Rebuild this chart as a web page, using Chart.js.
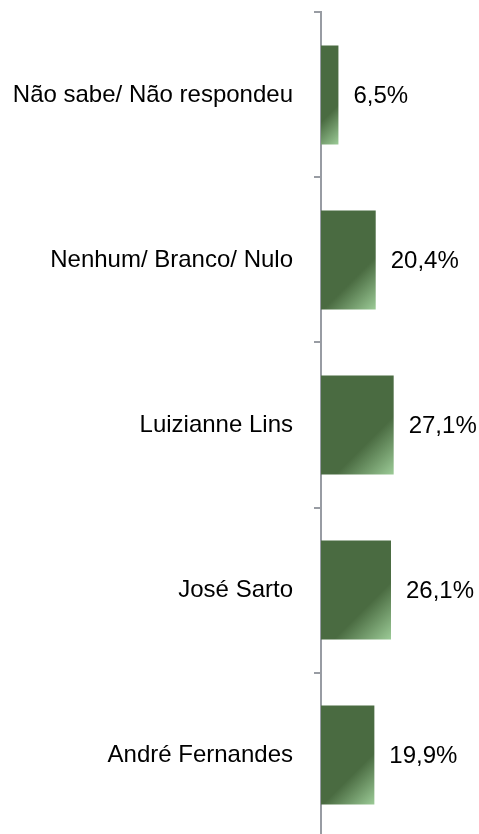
<!DOCTYPE html>
<html lang="pt">
<head>
<meta charset="UTF-8">
<title>Intenção de voto</title>
<script src="https://cdn.jsdelivr.net/npm/chart.js"></script>
<style>
  html, body { margin: 0; padding: 0; background: #fff; overflow: hidden; }
  .wrap { width: 479px; height: 834px; overflow: hidden; }
  #grafico { display: block; margin-top: -23px; }
</style>
</head>
<body>
<div class="wrap"><canvas id="grafico" width="479" height="896"></canvas></div>
<script>
// dados (de cima para baixo)
var candidatos = ['Não sabe/ Não respondeu', 'Nenhum/ Branco/ Nulo', 'Luizianne Lins', 'José Sarto', 'André Fernandes'];
var percentuais = [6.5, 20.4, 27.1, 26.1, 19.9];

var fonte = '"Liberation Sans", Arial, sans-serif';

// degradê verde a 45 graus em cada barra, clareando no canto inferior direito
function corBarra(ctx) {
  var chart = ctx.chart;
  var sx = chart.scales.x, sy = chart.scales.y;
  if (!sx || !sy || ctx.dataIndex === undefined) return '#4a6b41';
  var x0 = sx.getPixelForValue(0);
  var x1 = sx.getPixelForValue(percentuais[ctx.dataIndex]);
  var yc = sy.getPixelForValue(ctx.dataIndex);
  var h = (sy.height / candidatos.length) * 0.6;
  if (![x0, x1, yc, h].every(isFinite)) return '#4a6b41';
  var d = (x1 - x0 + h) / 2;
  var g = chart.ctx.createLinearGradient(x0, yc - h / 2, x0 + d, yc - h / 2 + d);
  g.addColorStop(0, '#4a6b41');
  g.addColorStop(0.66, '#4a6b41');
  g.addColorStop(1, '#9ccb97');
  return g;
}

// rótulos com o valor ao lado das barras
var rotulos = {
  id: 'rotulos',
  afterDatasetsDraw: function(chart) {
    var c = chart.ctx;
    var meta = chart.getDatasetMeta(0);
    c.save();
    c.font = '24px ' + fonte;
    c.fillStyle = '#000';
    c.textAlign = 'left';
    c.textBaseline = 'middle';
    meta.data.forEach(function(bar, i) {
      var txt = percentuais[i].toFixed(1).replace('.', ',') + '%';
      c.fillText(txt, bar.x + 15, bar.y + 1);
    });
    c.restore();
  }
};

new Chart(document.getElementById('grafico'), {
  type: 'bar',
  data: {
    labels: candidatos,
    datasets: [{
      data: percentuais,
      backgroundColor: corBarra,
      borderWidth: 0,
      categoryPercentage: 0.6,
      barPercentage: 1
    }]
  },
  plugins: [rotulos],
  options: {
    indexAxis: 'y',
    responsive: false,
    animation: false,
    layout: { padding: { top: 0, bottom: 0, left: 0, right: 10.5 } },
    plugins: { legend: { display: false }, tooltip: { enabled: false } },
    scales: {
      x: { display: false, min: 0, max: 55 },
      y: {
        afterFit: function(scale) { scale.width = 321; },
        border: { display: true, color: '#989ca3', width: 2 },
        grid: { drawOnChartArea: false, drawTicks: true, tickLength: 7, color: '#989ca3', lineWidth: 2 },
        ticks: { color: '#000', padding: 21, font: { family: fonte, size: 24 } }
      }
    }
  }
});
</script>
</body>
</html>
